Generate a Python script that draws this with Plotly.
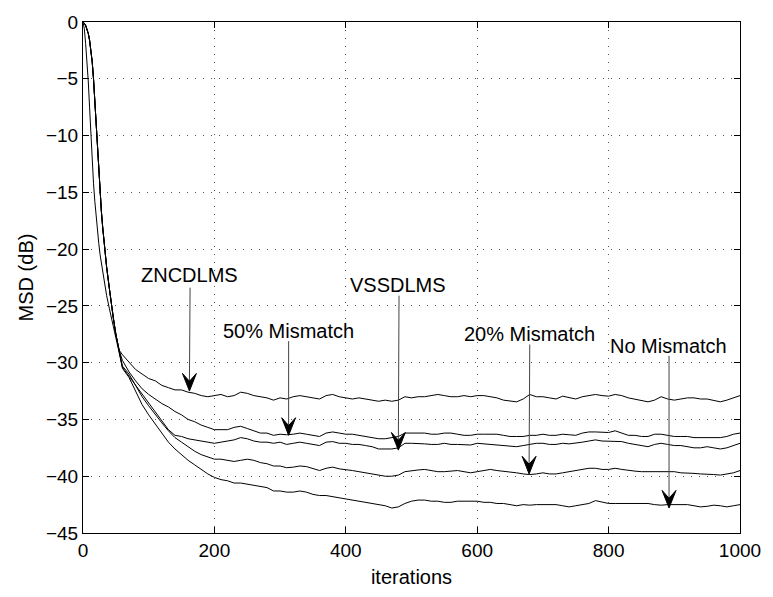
import plotly.graph_objects as go

# ---------------- data ----------------
ITER_HEAD = [0, 2, 4, 6, 8, 10, 12, 14, 16, 18, 20, 22, 24, 26, 28, 30, 33, 36, 40, 43, 46, 50, 55]
ITER_TAIL = list(range(60, 1001, 10))
ITERATIONS = ITER_HEAD + ITER_TAIL

# start of the curves (dB)
START_SLOW = [0, -0.1, -0.3, -0.6, -1.0, -1.6, -2.4, -3.5, -5.0, -7.0, -9.2, -11.4, -13.4,
              -15.2, -16.7, -18.1, -20.0, -21.6, -23.4, -24.8, -26.0, -27.5, -28.9]
START_FAST = [0, -0.6, -1.9, -3.4, -5.2, -7.5, -10.0, -12.1, -14.2, -15.8, -17.2, -18.4, -19.5,
              -20.5, -21.3, -22.1, -23.2, -24.1, -25.2, -26.0, -26.8, -27.8, -29.0]

ZNCDLMS_TAIL = [
    -29.3, -30.0, -30.6, -31.0, -31.4, -31.6, -32.0, -32.2, -32.4, -32.4,
    -32.6, -32.7, -32.9, -33.0, -32.9, -32.8, -33.0, -32.9, -32.6, -32.7,
    -32.9, -33.0, -33.1, -33.3, -33.1, -33.2, -33.0, -32.9, -33.0, -33.1,
    -33.2, -32.9, -32.8, -33.0, -33.1, -33.2, -33.1, -33.2, -33.3, -33.4,
    -33.3, -33.4, -33.3, -33.0, -33.1, -33.0, -33.0, -32.9, -32.8, -32.9,
    -33.0, -33.0, -32.9, -33.0, -32.9, -32.9, -33.0, -33.1, -33.3, -33.4,
    -33.45, -33.2, -32.8, -33.0, -33.0, -33.1, -33.2, -32.95, -33.1, -33.2,
    -33.0, -32.9, -32.8, -32.9, -32.95, -32.8, -32.9, -33.1, -33.2, -33.3,
    -33.45, -33.3, -33.0, -33.2, -33.3, -33.2, -33.1, -33.1, -33.2, -33.2,
    -33.3, -33.45, -33.3, -33.1, -32.9]

MISMATCH50_TAIL = [
    -29.8, -30.8, -31.6, -32.3, -32.8, -33.2, -33.6, -33.9, -34.3, -34.6,
    -35.0, -35.2, -35.5, -35.7, -35.9, -35.9, -35.9, -35.7, -35.6, -35.8,
    -36.0, -36.2, -36.2, -36.4, -36.3, -36.35, -36.3, -36.2, -36.3, -36.4,
    -36.5, -36.2, -36.1, -36.2, -36.3, -36.3, -36.4, -36.5, -36.6, -36.7,
    -36.7, -36.6, -36.5, -36.2, -36.2, -36.15, -36.2, -36.3, -36.3, -36.2,
    -36.2, -36.3, -36.4, -36.4, -36.3, -36.3, -36.3, -36.3, -36.4, -36.5,
    -36.5, -36.5, -36.4, -36.4, -36.3, -36.4, -36.4, -36.3, -36.35, -36.4,
    -36.2, -36.1, -36.1, -36.15, -36.15, -36.0, -36.2, -36.4, -36.4, -36.5,
    -36.5, -36.3, -36.3, -36.4, -36.5, -36.5, -36.5, -36.6, -36.6, -36.65,
    -36.6, -36.6, -36.5, -36.3, -36.2]

VSSDLMS_TAIL = [
    -30.4, -31.2, -32.0, -32.8, -33.6, -34.4, -35.2, -35.9, -36.4, -36.5,
    -36.7, -36.8, -36.9, -37.0, -37.1, -37.0, -36.9, -36.8, -36.6, -36.7,
    -36.9, -37.0, -37.0, -37.1, -37.0, -37.2, -37.1, -37.0, -37.1, -37.2,
    -37.3, -37.0, -36.95, -37.1, -37.1, -37.2, -37.2, -37.3, -37.4, -37.6,
    -37.6, -37.6, -37.5, -37.1, -37.1, -37.1, -37.15, -37.2, -37.2, -37.1,
    -37.2, -37.2, -37.2, -37.25, -37.1, -37.15, -37.2, -37.2, -37.3, -37.3,
    -37.4, -37.3, -37.2, -37.1, -37.1, -37.2, -37.2, -37.1, -37.15, -37.1,
    -37.0, -36.9, -36.8, -36.9, -36.9, -36.9, -36.95, -37.1, -37.2, -37.3,
    -37.4, -37.2, -37.1, -37.2, -37.3, -37.3, -37.4, -37.5, -37.5, -37.4,
    -37.5, -37.6, -37.5, -37.3, -37.1]

MISMATCH20_TAIL = [
    -30.3, -31.0, -32.0, -33.0, -33.8, -34.6, -35.3, -36.0, -36.6, -37.0,
    -37.4, -37.8, -38.1, -38.3, -38.5, -38.5, -38.6, -38.7, -38.6, -38.5,
    -38.6, -38.8, -38.9, -39.1, -39.1, -39.25, -39.2, -39.1, -39.15, -39.3,
    -39.5, -39.3, -39.2, -39.35, -39.4, -39.5, -39.6, -39.7, -39.8, -39.9,
    -40.0, -40.0, -39.9, -39.6, -39.5, -39.45, -39.4, -39.5, -39.6, -39.6,
    -39.55, -39.5, -39.6, -39.7, -39.6, -39.5, -39.4, -39.5, -39.55, -39.6,
    -39.7, -39.8, -39.85, -39.8, -39.7, -39.8, -39.8, -39.7, -39.6, -39.5,
    -39.4, -39.3, -39.3, -39.4, -39.4, -39.3, -39.4, -39.5, -39.55, -39.6,
    -39.6, -39.55, -39.55, -39.6, -39.6, -39.7, -39.7, -39.75, -39.8, -39.8,
    -39.85, -39.9, -39.8, -39.7, -39.5]

NOMISMATCH_TAIL = [
    -30.5, -31.3, -32.5, -33.7, -34.6, -35.4, -36.2, -37.0, -37.6, -38.1,
    -38.6, -39.0, -39.4, -39.8, -40.1, -40.3, -40.4, -40.6, -40.6, -40.7,
    -40.8, -40.9, -41.0, -41.3, -41.3, -41.4, -41.4, -41.3, -41.4, -41.6,
    -41.7, -41.7, -41.8, -41.9, -42.0, -42.1, -42.2, -42.3, -42.4, -42.5,
    -42.6, -42.8, -42.7, -42.4, -42.2, -42.1, -42.1, -42.2, -42.2, -42.3,
    -42.3, -42.2, -42.2, -42.15, -42.2, -42.3, -42.3, -42.4, -42.4, -42.5,
    -42.6, -42.5, -42.55, -42.5, -42.5, -42.5, -42.5, -42.6, -42.7, -42.6,
    -42.5, -42.4, -42.15, -42.3, -42.4, -42.4, -42.4, -42.4, -42.4, -42.4,
    -42.4, -42.5, -42.55, -42.5, -42.5, -42.5, -42.5, -42.6, -42.7, -42.65,
    -42.55, -42.6, -42.7, -42.6, -42.5]

SERIES = {
    "ZNCDLMS": START_SLOW + ZNCDLMS_TAIL,
    "50% Mismatch": START_SLOW + MISMATCH50_TAIL,
    "VSSDLMS": START_FAST + VSSDLMS_TAIL,
    "20% Mismatch": START_SLOW + MISMATCH20_TAIL,
    "No Mismatch": START_SLOW + NOMISMATCH_TAIL,
}

X_TICKS = [0, 200, 400, 600, 800, 1000]
Y_TICKS = [0, -5, -10, -15, -20, -25, -30, -35, -40, -45]

# label text position, arrow tail, arrow tip (data coordinates)
LABELS = [
    ("ZNCDLMS", 162, -22.3, 163, -23.4, 162, -32.5),
    ("50% Mismatch", 313, -27.2, 313, -28.1, 313, -36.4),
    ("VSSDLMS", 480, -23.2, 481, -24.1, 480, -37.7),
    ("20% Mismatch", 679, -27.5, 680, -28.4, 679, -39.8),
    ("No Mismatch", 891, -28.5, 892, -29.4, 892, -42.8),
]

# ---------------- figure ----------------
W, H = 773, 597
ML, MR, MT, MB = 83, 29, 18, 57
PW, PH = W - ML - MR, H - MT - MB
XR, YR = [0, 1000], [-45, 0]
PX_X = PW / (XR[1] - XR[0])
PX_Y = PH / (YR[1] - YR[0])

FONT = "Liberation Sans, Arial, Helvetica, sans-serif"

fig = go.Figure()
for name, vals in SERIES.items():
    assert len(vals) == len(ITERATIONS), name
    fig.add_trace(go.Scatter(x=ITERATIONS, y=vals, mode="lines", name=name,
                             line=dict(color="black", width=1), showlegend=False))

shapes = []
annotations = []
for text, tx, ty, ax0, ay0, hx, hy in LABELS:
    annotations.append(dict(x=tx, y=ty, xref="x", yref="y", text=text, showarrow=False,
                            font=dict(size=20, color="black", family=FONT)))
    shapes.append(dict(type="line", xref="x", yref="y", x0=ax0, y0=ay0, x1=hx, y1=hy + 10 / PX_Y,
                       line=dict(color="#444", width=1)))
    # arrow head (chevron) : 14 px wide, 18 px long, notch 10 px
    hw, hl, hn = 7 / PX_X, 18 / PX_Y, 10 / PX_Y
    path = (f"M {hx},{hy} L {hx - hw},{hy + hl} L {hx},{hy + hn} L {hx + hw},{hy + hl} Z")
    shapes.append(dict(type="path", xref="x", yref="y", path=path,
                       fillcolor="black", line=dict(color="black", width=1)))

axis_common = dict(showline=True, linecolor="black", linewidth=1, mirror="ticks",
                   ticks="inside", ticklen=6, tickcolor="black", tickwidth=1,
                   showgrid=True, gridcolor="#555", gridwidth=1, griddash="1px,7px",
                   zeroline=False, tickfont=dict(size=19, color="black", family=FONT))

fig.update_layout(
    width=W, height=H, margin=dict(l=ML, r=MR, t=MT, b=MB, pad=0),
    paper_bgcolor="white", plot_bgcolor="white",
    xaxis=dict(range=XR, tickvals=X_TICKS, **axis_common,
               title=dict(text="iterations", font=dict(size=20, color="black", family=FONT), standoff=10)),
    yaxis=dict(range=YR, tickvals=Y_TICKS, **axis_common,
               title=dict(text="MSD (dB)", font=dict(size=20, color="black", family=FONT), standoff=6)),
    shapes=shapes, annotations=annotations,
)

fig.write_html("out.html")
